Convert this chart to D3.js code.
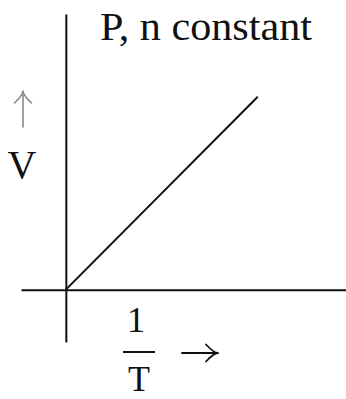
<!DOCTYPE html>
<html>
<head>
<meta charset="utf-8">
<script src="https://cdn.jsdelivr.net/npm/d3@7"></script>
<style>
	html, body { margin: 0; padding: 0; background: #fff; }
	svg { display: block; }
	text { font-family: "Liberation Serif", "Times New Roman", serif; fill: #111; }
</style>
</head>
<body>
<div id="chart"></div>
<script>
// V vs 1/T at constant P, n (arbitrary units)
const lineX = [0, 6.85];
const lineY = [0, 7.0];
const xExtent = [-1.6, 10];
const yExtent = [-1.9, 10];
const title = "P, n constant";
const yLabel = "V";
const xLabelTop = "1";
const xLabelBottom = "T";

window.addEventListener("DOMContentLoaded", () => {
	let width = 346,
		height = 399;

	let svg = d3.select("#chart").append("svg").attr("width", width).attr("height", height);

	let x = d3.scaleLinear().domain(xExtent).range([21, 346]);
	let y = d3.scaleLinear().domain(yExtent).range([342, 14]);

	// axes through the origin, no ticks
	svg
		.append("g")
		.attr("transform", "translate(0," + y(0) + ")")
		.call(d3.axisBottom(x).tickValues([]).tickSizeOuter(0))
		.select(".domain")
		.attr("stroke", "#111")
		.attr("stroke-width", 2);
	svg
		.append("g")
		.attr("transform", "translate(" + x(0) + ",0)")
		.call(d3.axisLeft(y).tickValues([]).tickSizeOuter(0))
		.select(".domain")
		.attr("stroke", "#111")
		.attr("stroke-width", 2);

	// V grows linearly with 1/T
	let line = d3
		.line()
		.x((d) => x(d[0]))
		.y((d) => y(d[1]));
	svg
		.append("path")
		.datum(d3.zip(lineX, lineY))
		.attr("d", line)
		.attr("fill", "none")
		.attr("stroke", "#111")
		.attr("stroke-width", 2);

	svg.append("text").attr("x", 100).attr("y", 40).attr("font-size", 39).attr("textLength", 212).attr("lengthAdjust", "spacingAndGlyphs").text(title);

	// y label: arrow above V
	drawArrow(svg, [23, 127], [23, 91], "#888", 1.6);
	svg.append("text").attr("x", 22).attr("y", 178).attr("text-anchor", "middle").attr("font-size", 40).text(yLabel);

	// x label: 1/T fraction then arrow
	svg.append("text").attr("x", 136).attr("y", 332).attr("text-anchor", "middle").attr("font-size", 36).text(xLabelTop);
	svg.append("line").attr("x1", 123).attr("x2", 155).attr("y1", 352).attr("y2", 352).attr("stroke", "#111").attr("stroke-width", 2);
	svg.append("text").attr("x", 139).attr("y", 391).attr("text-anchor", "middle").attr("font-size", 36).text(xLabelBottom);
	drawArrow(svg, [182, 353], [218, 353], "#111", 1.8);

	function drawArrow(svg, from, to, color, w) {
		let dx = to[0] - from[0],
			dy = to[1] - from[1];
		let len = Math.hypot(dx, dy);
		let ux = dx / len,
			uy = dy / len;
		let back = 12,
			half = 8.5;
		let bx = to[0] - ux * back,
			by = to[1] - uy * back;
		let g = svg.append("g").attr("fill", "none").attr("stroke", color).attr("stroke-width", w).attr("stroke-linecap", "round");
		g.append("line").attr("x1", from[0]).attr("y1", from[1]).attr("x2", to[0]).attr("y2", to[1]);
		g.append("path").attr(
			"d",
			"M" + (bx - uy * half) + "," + (by + ux * half) +
				"Q" + (to[0] - ux * 4) + "," + (to[1] - uy * 4) + " " + to[0] + "," + to[1] +
				"Q" + (to[0] - ux * 4) + "," + (to[1] - uy * 4) + " " + (bx + uy * half) + "," + (by - ux * half)
		);
	}
});
</script>
</body>
</html>
